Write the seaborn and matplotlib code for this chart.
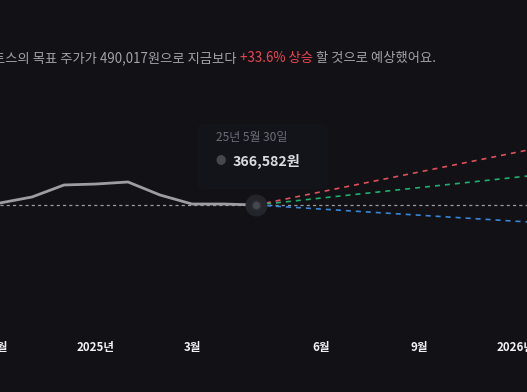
import matplotlib
matplotlib.use("Agg")
import matplotlib.pyplot as plt
from matplotlib.patches import FancyBboxPatch
import seaborn as sns
import pandas as pd

# ---- data ----
hist_t = [0, 1, 2, 3, 4, 5, 6, 7, 8]
hist_price = [372500, 390300, 425800, 428700, 434700, 396200, 369500, 369500, 366582]
current_price = 366582
fc_t = [8, 16.5]
fc_high = [366582, 529400]
fc_avg = [366582, 452400]
fc_low = [366582, 316300]
tick_pos = [-0.15, 3, 6, 10.05, 13.1, 16.1]
tick_labels = ["12월", "2025년", "3월", "6월", "9월", "2026년"]
headline_pre = "토스의 목표 주가가 490,017원으로 지금보다 "
headline_hi = "+33.6% 상승"
headline_post = " 할 것으로 예상했어요."
tip_date = "25년 5월 30일"
tip_value = "366,582원"

BG = "#111116"
sns.set_theme(style="dark")
plt.rcParams['font.family'] = ['Noto Sans CJK KR', 'DejaVu Sans']

fig = plt.figure(figsize=(5.27, 3.92), dpi=100)
fig.patch.set_facecolor(BG)
ax = fig.add_axes([0, 0, 1, 1])
ax.set_facecolor(BG)

px_per = 32.0  # pixels per t unit
won_per_px = 2960.0

# baseline
ax.axhline(current_price, color="#9a9aa2", lw=0.9, ls=(0, (2.5, 2.5)), zorder=1)

df_h = pd.DataFrame({"t": hist_t, "p": hist_price})
sns.lineplot(data=df_h, x="t", y="p", ax=ax, color="#9d9da3", lw=2.0, zorder=3)

for vals, col in [(fc_high, "#e0505c"), (fc_avg, "#1fb06e"), (fc_low, "#3b86d4")]:
    d = pd.DataFrame({"t": fc_t, "p": vals})
    sns.lineplot(data=d, x="t", y="p", ax=ax, color=col, lw=1.2,
                 linestyle=(0, (3, 3)), zorder=2)

# current marker with halo
ax.scatter([hist_t[-1]], [current_price], s=250, color="#24252b", zorder=4, linewidths=0)
ax.scatter([hist_t[-1]], [current_price], s=42, color="#46474e", edgecolors="#2c2d33",
           linewidths=1.2, zorder=5)

# ticks
ax.set_xticks(tick_pos)
ax.set_xticklabels([])
for p, lab in zip(tick_pos, tick_labels):
    ax.text(p, current_price - 142.5 * won_per_px, lab, color="#f2f2f4", fontsize=8.3,
            fontweight="bold", ha="center", va="center", zorder=6)
ax.set_yticks([])
ax.set_xlabel("")
ax.set_ylabel("")
for s in ax.spines.values():
    s.set_visible(False)
ax.grid(False)
ax.set_xlim(0, 527 / px_per)
ax.set_ylim(current_price - 187 * won_per_px, current_price + 205 * won_per_px)

# tooltip
W, H = 527.0, 392.0
box = FancyBboxPatch((198 / W, 1 - 188 / H), 129 / W, 63 / H,
                     boxstyle="round,pad=0,rounding_size=0.012",
                     transform=fig.transFigure, facecolor="#13141a",
                     edgecolor="#15161c", lw=0.8, zorder=3)
fig.patches.append(box)
fig.text(216 / W, 1 - 137 / H, tip_date, color="#6c6e78", fontsize=8.6, va="center", ha="left")
fig.text(221 / W, 1 - 161 / H, "●", color="#46474f", fontsize=7.5, va="center", ha="center")
fig.text(233 / W, 1 - 161 / H, tip_value, color="#dcdce0", fontsize=10.2,
         fontweight="bold", va="center", ha="left")

# headline
t1 = fig.text(-7 / W, 1 - 58 / H, headline_pre, color="#a2a2aa", fontsize=9.55, va="center", ha="left")
fig.canvas.draw()
r = fig.canvas.get_renderer()
bb = t1.get_window_extent(r)
t2 = fig.text(bb.x1 / W, 1 - 58 / H, headline_hi, color="#f04452", fontsize=9.55, va="center", ha="left")
bb2 = t2.get_window_extent(r)
fig.text(bb2.x1 / W, 1 - 58 / H, headline_post, color="#a2a2aa", fontsize=9.55, va="center", ha="left")

fig.savefig("out.png", dpi=100, facecolor=BG)
